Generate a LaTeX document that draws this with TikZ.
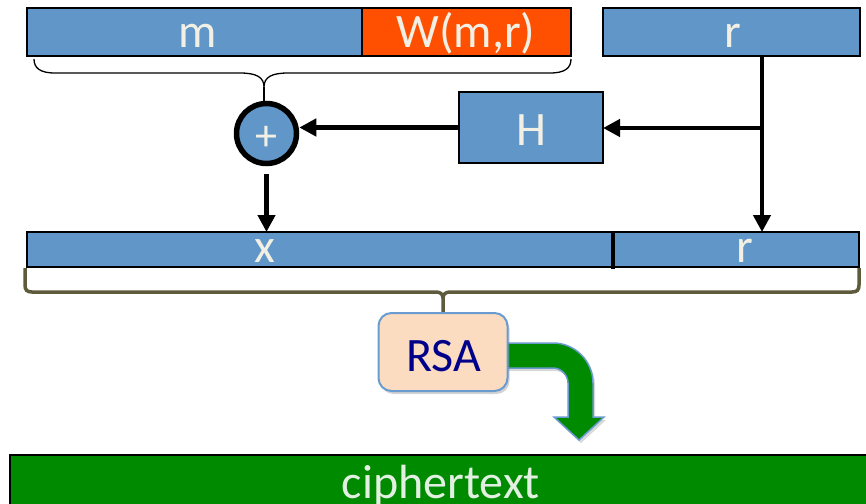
\documentclass[tikz,border=0pt]{standalone}
\usepackage{fontspec}
\setmainfont{Carlito}
\usetikzlibrary{arrows.meta,shadows}
\definecolor{boxblue}{RGB}{96,150,200}
\definecolor{wred}{RGB}{255,79,0}
\definecolor{labelwhite}{RGB}{242,240,228}
\definecolor{gr}{RGB}{0,138,0}
\definecolor{peach}{RGB}{251,220,192}
\definecolor{rsaedge}{RGB}{106,155,208}
\definecolor{olive}{RGB}{94,90,60}
\definecolor{navy}{RGB}{0,0,139}
\tikzset{
  blk/.style={draw=black, line width=1.5pt, fill=boxblue, inner sep=0pt, outer sep=0pt},
  lbl/.style={text=labelwhite, font=\fontsize{48}{52}\selectfont, anchor=base, inner sep=0pt},
  arr/.style={line width=4.8pt, -{Triangle[length=17pt,width=17pt]}},
}
\begin{document}
\begin{tikzpicture}[x=1pt,y=-1pt]
\useasboundingbox (0,0) rectangle (866,503);
% top row
\node[blk, minimum width=335pt, minimum height=48pt] (m) at (194.5,32) {};
\node[blk, fill=wred, minimum width=209pt, minimum height=48pt] (w) at (466.5,32) {};
\node[blk, minimum width=257pt, minimum height=48pt] (rtop) at (731.5,32) {};
\node[lbl] (mt) at (197.5,48) {m};
\node[lbl] (wt) at (466,48) {W(m,r)};
\node[lbl] (rt) at (733,48) {r};
% H box
\node[blk, minimum width=144pt, minimum height=71pt] (h) at (531,127.5) {};
\node[lbl] (ht) at (531,145) {H};
% xor circle
\node[circle, draw=black, line width=5.5pt, fill=boxblue, minimum size=60pt, inner sep=0pt] (circ) at (266.5,133.5) {};
\node[text=labelwhite, font=\fontsize{44}{48}\selectfont, inner sep=0pt] (plus) at (266.5,138) {+};
% brace over m, W
\draw[line width=1.3pt] (34,59) .. controls (34,68) and (40,73) .. (55,73) -- (240,73)
  .. controls (256,73) and (264,77) .. (264,87) .. controls (264,77) and (272,73) .. (288,73)
  -- (550,73) .. controls (565,73) and (571,68) .. (571,59);
\coordinate (btip) at (264,87);
\draw[line width=1.3pt] (btip) -- (circ.north -| btip);
% bottom bar
\node[blk, minimum width=586pt, minimum height=35pt] (xpart) at (320,249.5) {};
\node[blk, minimum width=246pt, minimum height=35pt] (rpart) at (736,249.5) {};
\draw[line width=4pt] ([yshift=1pt]xpart.north east) -- ([yshift=-2pt]xpart.south east);
\node[lbl] (xt) at (265,262) {x};
\node[lbl] (rbt) at (745,262) {r};
% arrows
\draw[arr] (h.west) -- (h.west -| circ.east);
\coordinate (rdown) at (762,56);
\coordinate (branch) at (762,128);
\draw[arr] (rdown) -- (rdown |- rpart.north);
\draw[arr] (branch) -- (h.east |- branch);
\draw[arr] ([yshift=-8pt]circ.south) -- (circ.south |- xpart.north);
% lower brace
\draw[olive, line width=3.5pt] (25,268) -- (25,285) .. controls (25,290) and (27,292) .. (32,292)
  -- (436,292) .. controls (440,292) and (443,294) .. (443,298) -- (443,315);
\draw[olive, line width=3.5pt] (859,268) -- (859,285) .. controls (859,290) and (857,292) .. (852,292)
  -- (450,292) .. controls (446,292) and (443,294) .. (443,298);
% green curved arrow
\draw[draw=rsaedge, line width=1.5pt, fill=gr, drop shadow={shadow xshift=2pt, shadow yshift=-3pt, opacity=0.3}]
  (500,343) -- (553,343) .. controls (575,343) and (593,361) .. (593,383)
  -- (593,417) -- (604,417) -- (579,440) -- (554,417) -- (568,417) -- (568,383)
  .. controls (568,375) and (561,368) .. (553,368) -- (500,368) -- cycle;
% RSA box
\node[draw=rsaedge, line width=2pt, fill=peach, rounded corners=13pt, minimum width=129pt, minimum height=78pt,
  drop shadow={shadow xshift=2pt, shadow yshift=-3pt, opacity=0.35}] (rsa) at (443,352) {};
\node[text=navy, font=\fontsize{48}{52}\selectfont, anchor=base, inner sep=0pt] (rsat) at (444,371) {RSA};
% ciphertext bar
\node[draw=black, line width=2pt, fill=gr, minimum width=862pt, minimum height=50pt, inner sep=0pt] (ct) at (441,480) {};
\node[lbl, text={rgb,255:red,225;green,240;blue,225}] (ctt) at (441,498) {ciphertext};
\end{tikzpicture}
\end{document}
